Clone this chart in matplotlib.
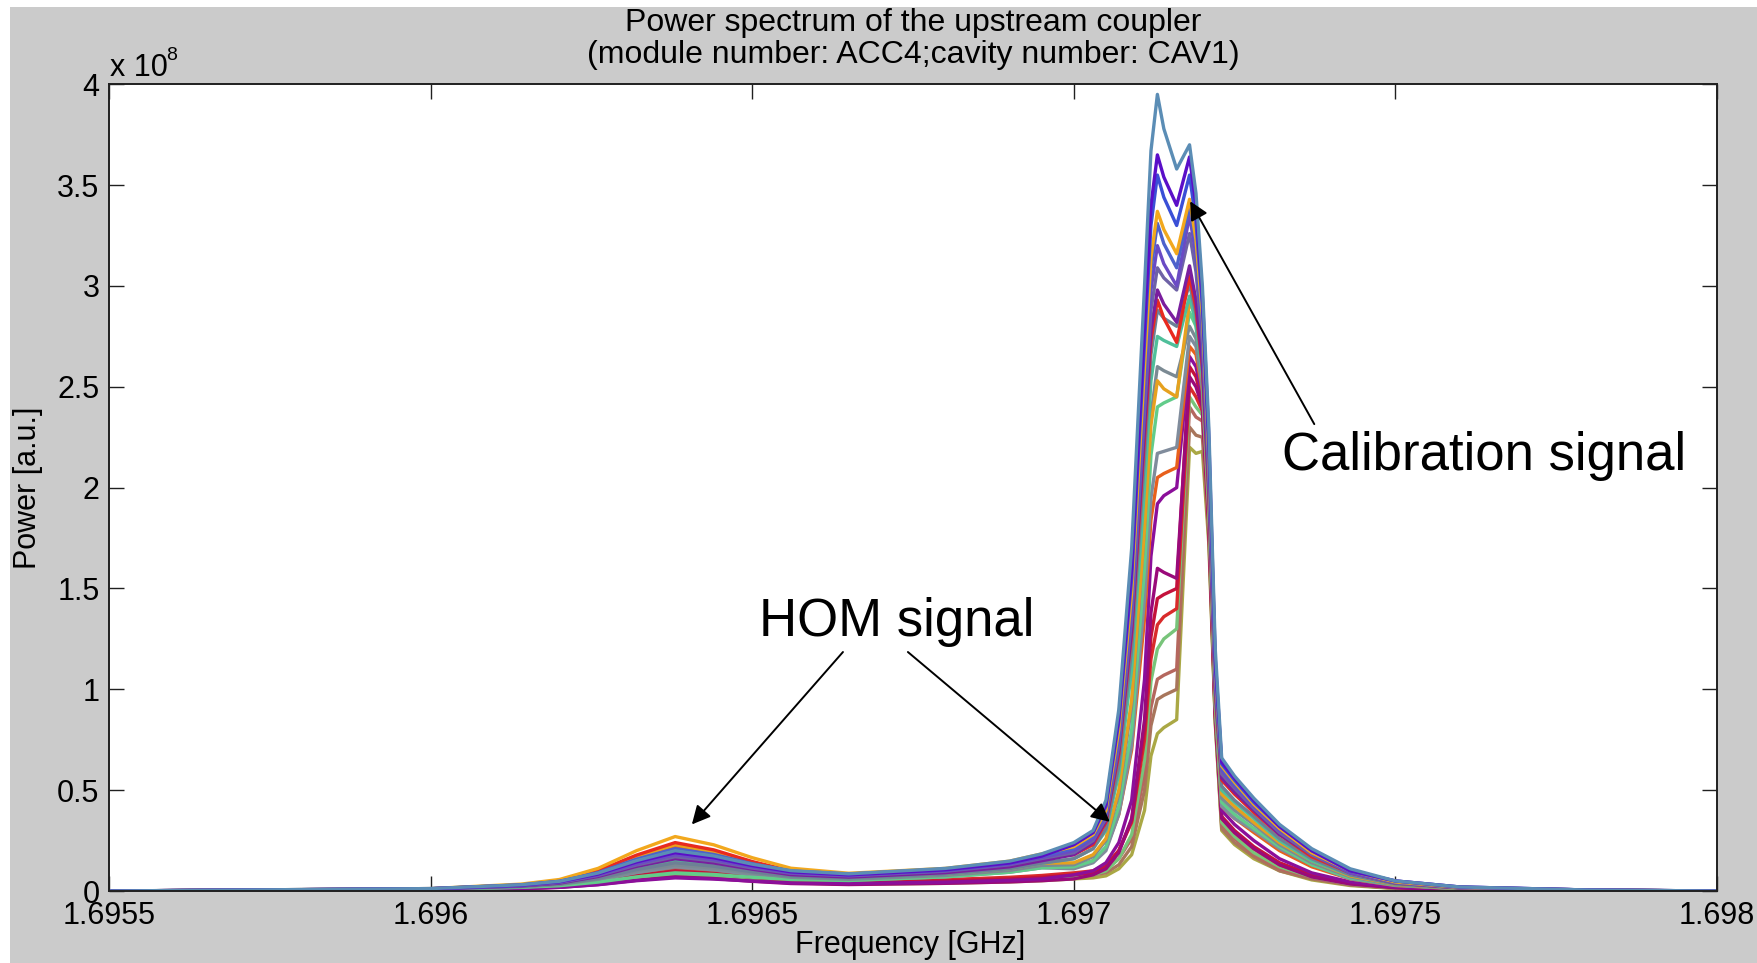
"""Power spectrum of the upstream HOM coupler, ACC4 / CAV1."""

from __future__ import annotations

import matplotlib

matplotlib.use("Agg")

import matplotlib.pyplot as plt
from matplotlib.patches import Rectangle
from matplotlib.ticker import FormatStrFormatter


# Frequency grid shared by all traces [GHz]
freq_ghz = [
    1.69550, 1.69600, 1.69614, 1.69620, 1.69626, 1.69632, 1.69638, 1.69644, 1.69650, 1.69656, 1.69665, 1.69680, 1.69690, 1.69695,
    1.69700, 1.69703, 1.69705, 1.69707, 1.69709, 1.69711, 1.69712, 1.69713, 1.69714, 1.69716, 1.69718, 1.69719, 1.69720, 1.69721,
    1.69722, 1.69723, 1.69725, 1.69728, 1.69732, 1.69737, 1.69743, 1.69750, 1.69760, 1.69780, 1.69800,
]

# Power traces in units of 1e8 [a.u.]
p_steel = [0, .012, .031, .048, .089, .151, .200, .174, .133, .101, .085, .112, .148, .184,
           0.24, 0.30, 0.45, 0.90, 1.70, 3.00, 3.67, 3.95, 3.78, 3.58, 3.70, 3.46, 3.00, 2.30,
           1.20, 0.66, 0.57, 0.46, 0.33, 0.21, 0.11, 0.05, 0.02, 0.005, 0]
p_indigo = [0, .011, .029, .046, .084, .144, .190, .165, .126, .095, .080, .105, .139, .173,
            0.23, 0.29, 0.43, 0.86, 1.60, 2.80, 3.40, 3.65, 3.54, 3.40, 3.64, 3.40, 2.95, 2.25,
            1.15, 0.64, 0.56, 0.45, 0.32, 0.20, 0.10, 0.05, 0.02, 0.005, 0]
p_blue = [0, .012, .030, .048, .089, .152, .200, .174, .132, .099, .084, .109, .144, .179,
          0.23, 0.29, 0.42, 0.84, 1.55, 2.72, 3.30, 3.55, 3.44, 3.30, 3.55, 3.32, 2.90, 2.20,
          1.12, 0.63, 0.55, 0.44, 0.32, 0.20, 0.10, 0.05, 0.02, 0.005, 0]
p_orange = [0, .012, .034, .057, .112, .200, .270, .229, .165, .113, .088, .112, .148, .184,
            0.22, 0.28, 0.40, 0.80, 1.48, 2.60, 3.14, 3.37, 3.28, 3.16, 3.43, 3.23, 2.85, 2.15,
            1.10, 0.62, 0.54, 0.43, 0.31, 0.19, 0.10, 0.045, 0.018, 0.005, 0]
p_royal = [0, .011, .030, .048, .091, .158, .210, .181, .135, .098, .081, .105, .139, .173,
           0.21, 0.27, 0.39, 0.78, 1.45, 2.55, 3.08, 3.31, 3.21, 3.09, 3.40, 3.20, 2.82, 2.12,
           1.08, 0.61, 0.53, 0.43, 0.31, 0.19, 0.10, 0.045, 0.018, 0.005, 0]
p_violet = [0, .011, .028, .044, .080, .135, .180, .156, .120, .090, .077, .101, .133, .166,
            0.20, 0.26, 0.38, 0.75, 1.40, 2.45, 2.98, 3.20, 3.11, 3.00, 3.35, 3.15, 2.78, 2.10,
            1.06, 0.60, 0.52, 0.42, 0.30, 0.19, 0.09, 0.045, 0.018, 0.005, 0]
p_slate = [0, .011, .027, .042, .077, .129, .170, .149, .114, .088, .075, .098, .130, .161,
           0.19, 0.25, 0.36, 0.72, 1.35, 2.38, 2.88, 3.09, 3.04, 2.98, 3.26, 3.07, 2.72, 2.05,
           1.04, 0.58, 0.51, 0.41, 0.29, 0.18, 0.09, 0.04, 0.016, 0.004, 0]
p_purple = [0, .010, .025, .039, .072, .122, .160, .139, .108, .081, .069, .091, .120, .150,
            0.18, 0.24, 0.35, 0.70, 1.30, 2.30, 2.78, 2.98, 2.91, 2.82, 3.10, 2.93, 2.62, 2.00,
            1.02, 0.56, 0.49, 0.40, 0.28, 0.18, 0.09, 0.04, 0.016, 0.004, 0]
p_red = [0, .011, .030, .050, .100, .178, .240, .204, .146, .100, .077, .098, .130, .161,
         0.18, 0.23, 0.34, 0.68, 1.28, 2.25, 2.73, 2.93, 2.84, 2.72, 3.05, 2.89, 2.60, 1.98,
         1.00, 0.55, 0.48, 0.39, 0.28, 0.17, 0.09, 0.04, 0.016, 0.004, 0]
p_greyblue = [0, .009, .023, .035, .063, .106, .140, .123, .095, .074, .064, .084, .111, .138,
              0.16, 0.21, 0.31, 0.62, 1.20, 2.15, 2.66, 2.88, 2.84, 2.80, 3.01, 2.86, 2.58, 1.96,
              0.98, 0.52, 0.45, 0.37, 0.26, 0.16, 0.08, 0.035, 0.014, 0.004, 0]
p_teal = [0, .009, .023, .036, .067, .113, .150, .131, .100, .075, .064, .084, .111, .138,
          0.16, 0.21, 0.30, 0.58, 1.10, 2.00, 2.53, 2.75, 2.73, 2.70, 2.95, 2.81, 2.55, 1.94,
          0.97, 0.50, 0.44, 0.36, 0.25, 0.15, 0.08, 0.035, 0.014, 0.004, 0]
p_amber = [0, .009, .027, .046, .093, .169, .230, .193, .136, .090, .067, .084, .111, .138,
           0.14, 0.18, 0.26, 0.50, 0.95, 1.80, 2.31, 2.53, 2.49, 2.45, 2.92, 2.85, 2.55, 1.92,
           0.95, 0.48, 0.42, 0.34, 0.24, 0.15, 0.075, 0.033, 0.013, 0.004, 0]
p_grey = [0, .008, .021, .032, .058, .099, .130, .114, .089, .068, .058, .077, .102, .127,
          0.13, 0.17, 0.25, 0.48, 0.92, 1.80, 2.36, 2.60, 2.58, 2.55, 2.80, 2.74, 2.50, 1.90,
          0.94, 0.46, 0.40, 0.33, 0.23, 0.14, 0.07, 0.03, 0.012, 0.003, 0]
p_green = [0, .008, .018, .026, .044, .070, .090, .082, .068, .057, .052, .070, .093, .115,
           0.12, 0.15, 0.22, 0.42, 0.80, 1.60, 2.16, 2.40, 2.42, 2.45, 2.87, 2.80, 2.55, 1.92,
           0.93, 0.44, 0.38, 0.31, 0.22, 0.13, 0.065, 0.03, 0.012, 0.003, 0]
p_steelgrey = [0, .008, .019, .030, .054, .091, .120, .105, .081, .062, .053, .070, .093, .115,
               0.11, 0.14, 0.20, 0.38, 0.72, 1.45, 1.95, 2.17, 2.18, 2.20, 2.75, 2.70, 2.50, 1.88,
               0.92, 0.42, 0.36, 0.30, 0.21, 0.13, 0.06, 0.028, 0.011, 0.003, 0]
p_vermilion = [0, .008, .026, .043, .088, .162, .220, .184, .129, .084, .062, .077, .102, .127,
               0.12, 0.15, 0.21, 0.38, 0.70, 1.35, 1.84, 2.05, 2.07, 2.10, 2.70, 2.66, 2.48, 1.86,
               0.91, 0.42, 0.36, 0.29, 0.20, 0.12, 0.06, 0.027, 0.011, 0.003, 0]
p_plum = [0, .005, .013, .018, .031, .051, .065, .059, .049, .040, .037, .044, .053, .060,
          0.08, 0.10, 0.14, 0.24, 0.45, 1.05, 1.66, 1.92, 1.96, 2.00, 2.65, 2.60, 2.45, 1.85,
          0.90, 0.40, 0.33, 0.25, 0.16, 0.09, 0.045, 0.02, 0.008, 0.002, 0]
p_magenta = [0, .005, .011, .018, .032, .053, .070, .062, .048, .037, .032, .038, .045, .051,
             0.06, 0.08, 0.11, 0.19, 0.36, 0.85, 1.38, 1.60, 1.58, 1.55, 2.55, 2.50, 2.40, 1.82,
             0.88, 0.36, 0.29, 0.21, 0.13, 0.07, 0.035, 0.016, 0.006, 0.002, 0]
p_crimson = [0, .006, .015, .024, .044, .076, .100, .087, .067, .050, .043, .050, .060, .068,
             0.08, 0.09, 0.12, 0.20, 0.35, 0.80, 1.26, 1.45, 1.47, 1.50, 2.60, 2.55, 2.42, 1.83,
             0.88, 0.37, 0.30, 0.22, 0.14, 0.08, 0.04, 0.018, 0.007, 0.002, 0]
p_scarlet = [0, .007, .021, .035, .072, .132, .180, .151, .105, .069, .051, .056, .068, .077,
             0.09, 0.10, 0.13, 0.20, 0.34, 0.75, 1.15, 1.32, 1.36, 1.40, 2.50, 2.45, 2.38, 1.80,
             0.87, 0.36, 0.29, 0.21, 0.13, 0.075, 0.037, 0.017, 0.007, 0.002, 0]
p_mint = [0, .005, .013, .020, .036, .061, .080, .071, .055, .043, .037, .044, .053, .060,
          0.07, 0.08, 0.10, 0.16, 0.28, 0.65, 1.04, 1.20, 1.25, 1.30, 2.45, 2.40, 2.36, 1.80,
          0.86, 0.34, 0.27, 0.19, 0.12, 0.07, 0.034, 0.015, 0.006, 0.002, 0]
p_mauve = [0, .006, .016, .027, .051, .090, .120, .103, .076, .054, .044, .050, .060, .068,
           0.08, 0.09, 0.11, 0.16, 0.26, 0.58, 0.91, 1.05, 1.07, 1.10, 2.40, 2.35, 2.33, 1.78,
           0.85, 0.33, 0.26, 0.18, 0.11, 0.065, 0.032, 0.014, 0.006, 0.002, 0]
p_brown = [0, .005, .015, .024, .046, .082, .110, .094, .069, .048, .038, .044, .053, .060,
           0.07, 0.08, 0.09, 0.13, 0.22, 0.50, 0.82, 0.95, 0.97, 1.00, 2.30, 2.26, 2.25, 1.75,
           0.84, 0.31, 0.24, 0.17, 0.10, 0.06, 0.03, 0.013, 0.005, 0.002, 0]
p_olive = [0, .005, .012, .020, .039, .067, .090, .078, .057, .041, .033, .038, .045, .051,
           0.06, 0.065, 0.075, 0.11, 0.18, 0.40, 0.67, 0.78, 0.81, 0.85, 2.20, 2.17, 2.18, 1.72,
           0.83, 0.30, 0.23, 0.16, 0.10, 0.055, 0.027, 0.012, 0.005, 0.001, 0]

# Draw order: weakest traces first so the strong ones sit on top
traces = [
    (p_olive, "#aaa845"), (p_brown, "#a8765c"), (p_mauve, "#b5675e"), (p_mint, "#78c47a"),
    (p_scarlet, "#d92b2b"), (p_crimson, "#c4123c"), (p_magenta, "#9a0a7a"), (p_plum, "#8b0f9a"),
    (p_vermilion, "#e8601c"), (p_steelgrey, "#808c9c"), (p_green, "#62cc8a"), (p_grey, "#7b8a93"),
    (p_amber, "#e6a11f"), (p_teal, "#4fbf9a"), (p_greyblue, "#6d8096"), (p_red, "#e82a1f"),
    (p_purple, "#7a1e9e"), (p_slate, "#6e62a6"), (p_violet, "#6a4bc4"), (p_royal, "#4d62cc"),
    (p_orange, "#f2a81d"), (p_blue, "#3a4fd6"), (p_indigo, "#5a0fc8"), (p_steel, "#5b8db5"),
]

x_ticks = [1.6955, 1.696, 1.6965, 1.697, 1.6975, 1.698]
y_ticks = [0, 0.5, 1, 1.5, 2, 2.5, 3, 3.5, 4]

FIG_W, FIG_H = 1758, 963
BG_GREY = "#cbcbcb"
FONT = "Liberation Sans"


def main() -> None:
    plt.rcParams["font.family"] = [FONT, "DejaVu Sans"]
    fig = plt.figure(figsize=(FIG_W / 100, FIG_H / 100), dpi=100, facecolor="white")
    fig.patches.append(
        Rectangle((10 / FIG_W, 0), 1, 1 - 7 / FIG_H, transform=fig.transFigure,
                  facecolor=BG_GREY, edgecolor="none", zorder=-10)
    )

    ax = fig.add_axes([109.3 / FIG_W, 1 - 891 / FIG_H, (1716.8 - 109.3) / FIG_W, (891 - 84.3) / FIG_H])
    ax.set_facecolor("white")

    for values, color in traces:
        ax.plot(freq_ghz, values, color=color, lw=2.4, solid_joinstyle="round")

    ax.set_xlim(x_ticks[0], x_ticks[-1])
    ax.set_ylim(y_ticks[0], y_ticks[-1])
    ax.set_xticks(x_ticks)
    ax.set_yticks(y_ticks)
    ax.xaxis.set_major_formatter(FormatStrFormatter("%g"))
    ax.yaxis.set_major_formatter(FormatStrFormatter("%g"))
    ax.tick_params(direction="in", length=11, width=1.0, labelsize=22, pad=7,
                   top=True, right=True, colors="#202020", labelcolor="black")
    for spine in ax.spines.values():
        spine.set_linewidth(1.4)
        spine.set_color("#202020")

    # axis multiplier written out by hand, MATLAB style
    fig.text(110 / FIG_W, 1 - 76 / FIG_H, "x 10", fontsize=22, ha="left", va="baseline")
    fig.text(166 / FIG_W, 1 - 60 / FIG_H, "8", fontsize=14, ha="left", va="baseline")

    fig.text(913 / FIG_W, 1 - 39 / FIG_H,
             "Power spectrum of the upstream coupler\n(module number: ACC4;cavity number: CAV1)",
             fontsize=23, ha="center", va="center", linespacing=1.1)
    fig.text(910 / FIG_W, 1 - 945 / FIG_H, "Frequency [GHz]", fontsize=22, ha="center", va="center")
    fig.text(28 / FIG_W, 1 - 488 / FIG_H, "Power [a.u.]", fontsize=22, ha="center", va="center", rotation=90)

    arrow = dict(arrowstyle="-|>", color="black", lw=1.4, mutation_scale=28, shrinkA=0, shrinkB=0)
    ax.text(1.696725, 1.334, "HOM signal", fontsize=38, ha="center", va="center")
    ax.annotate("", xy=(1.696406, 0.33), xytext=(1.696641, 1.185), arrowprops=arrow)
    ax.annotate("", xy=(1.697056, 0.343), xytext=(1.696742, 1.185), arrowprops=arrow)
    ax.text(1.697638, 2.157, "Calibration signal", fontsize=38, ha="center", va="center")
    ax.annotate("", xy=(1.697181, 3.42), xytext=(1.697374, 2.315), arrowprops=arrow)

    fig.savefig("out.png", dpi=100, facecolor=fig.get_facecolor())
    plt.close(fig)


if __name__ == "__main__":
    main()
